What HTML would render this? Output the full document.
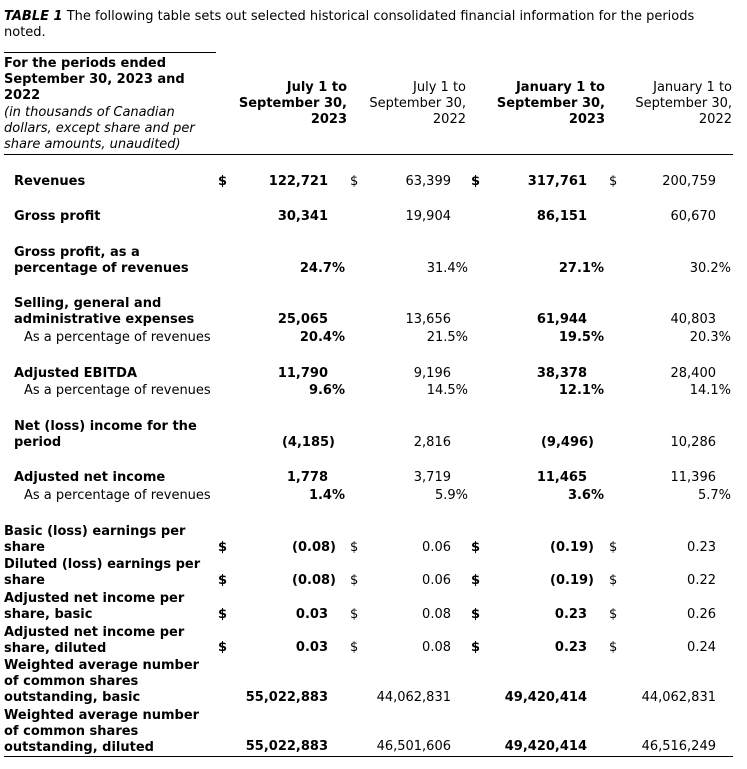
<!DOCTYPE html>
<html><head><meta charset="utf-8"><style>
body{margin:0;width:747px;height:769px;background:#fff;position:relative;font-family:"DejaVu Sans","Liberation Sans",sans-serif;font-size:13px;color:#000;overflow:hidden}
.a{position:absolute;line-height:16px;white-space:nowrap}
.b{font-weight:bold}
.i{font-style:italic}
.r{text-align:right}
.h{position:absolute;height:1px;background:#000}
</style></head><body>
<div class="a" style="left:4px;top:9px"><b><i>TABLE 1</i></b> The following table sets out selected historical consolidated financial information for the periods</div>
<div class="a" style="left:4px;top:25px">noted.</div>
<div class="h" style="left:4px;top:52px;width:212px"></div>
<div class="a b" style="left:4px;top:56px">For the periods ended<br>September 30, 2023 and<br>2022</div>
<div class="a i" style="left:4px;top:105px">(in thousands of Canadian<br>dollars, except share and per<br>share amounts, unaudited)</div>
<div class="a b r" style="right:400px;top:80px">July 1 to<br>September 30,<br>2023</div>
<div class="a r" style="right:281px;top:80px">July 1 to<br>September 30,<br>2022</div>
<div class="a b r" style="right:142px;top:80px">January 1 to<br>September 30,<br>2023</div>
<div class="a r" style="right:15px;top:80px">January 1 to<br>September 30,<br>2022</div>
<div class="h" style="left:4px;top:154px;width:729px"></div>
<div class="h" style="left:4px;top:756px;width:729px"></div>

<div class="a b" style="left:14px;top:174px">Revenues</div>
<div class="a b" style="left:14px;top:209px">Gross profit</div>
<div class="a b" style="left:14px;top:245px">Gross profit, as a<br>percentage of revenues</div>
<div class="a b" style="left:14px;top:296px">Selling, general and<br>administrative expenses</div>
<div class="a" style="left:24px;top:330px">As a percentage of revenues</div>
<div class="a b" style="left:14px;top:366px">Adjusted EBITDA</div>
<div class="a" style="left:24px;top:383px">As a percentage of revenues</div>
<div class="a b" style="left:14px;top:419px">Net (loss) income for the<br>period</div>
<div class="a b" style="left:14px;top:470px">Adjusted net income</div>
<div class="a" style="left:24px;top:488px">As a percentage of revenues</div>
<div class="a b" style="left:4px;top:524px">Basic (loss) earnings per<br>share</div>
<div class="a b" style="left:4px;top:557px">Diluted (loss) earnings per<br>share</div>
<div class="a b" style="left:4px;top:591px">Adjusted net income per<br>share, basic</div>
<div class="a b" style="left:4px;top:625px">Adjusted net income per<br>share, diluted</div>
<div class="a b" style="left:4px;top:658px">Weighted average number<br>of common shares<br>outstanding, basic</div>
<div class="a b" style="left:4px;top:708px">Weighted average number<br>of common shares<br>outstanding, diluted</div>

<div class="a b" style="left:218px;top:174px">$</div><div class="a" style="left:350px;top:174px">$</div><div class="a b" style="left:471px;top:174px">$</div><div class="a" style="left:609px;top:174px">$</div>
<div class="a b" style="left:218px;top:540px">$</div><div class="a" style="left:350px;top:540px">$</div><div class="a b" style="left:471px;top:540px">$</div><div class="a" style="left:609px;top:540px">$</div>
<div class="a b" style="left:218px;top:573px">$</div><div class="a" style="left:350px;top:573px">$</div><div class="a b" style="left:471px;top:573px">$</div><div class="a" style="left:609px;top:573px">$</div>
<div class="a b" style="left:218px;top:607px">$</div><div class="a" style="left:350px;top:607px">$</div><div class="a b" style="left:471px;top:607px">$</div><div class="a" style="left:609px;top:607px">$</div>
<div class="a b" style="left:218px;top:640px">$</div><div class="a" style="left:350px;top:640px">$</div><div class="a b" style="left:471px;top:640px">$</div><div class="a" style="left:609px;top:640px">$</div>

<div class="a b r" style="right:419px;top:174px">122,721</div><div class="a r" style="right:296px;top:174px">63,399</div><div class="a b r" style="right:160px;top:174px">317,761</div><div class="a r" style="right:31px;top:174px">200,759</div>
<div class="a b r" style="right:419px;top:209px">30,341</div><div class="a r" style="right:296px;top:209px">19,904</div><div class="a b r" style="right:160px;top:209px">86,151</div><div class="a r" style="right:31px;top:209px">60,670</div>
<div class="a b r" style="right:402px;top:261px">24.7%</div><div class="a r" style="right:279px;top:261px">31.4%</div><div class="a b r" style="right:143px;top:261px">27.1%</div><div class="a r" style="right:16px;top:261px">30.2%</div>
<div class="a b r" style="right:419px;top:312px">25,065</div><div class="a r" style="right:296px;top:312px">13,656</div><div class="a b r" style="right:160px;top:312px">61,944</div><div class="a r" style="right:31px;top:312px">40,803</div>
<div class="a b r" style="right:402px;top:330px">20.4%</div><div class="a r" style="right:279px;top:330px">21.5%</div><div class="a b r" style="right:143px;top:330px">19.5%</div><div class="a r" style="right:16px;top:330px">20.3%</div>
<div class="a b r" style="right:419px;top:366px">11,790</div><div class="a r" style="right:296px;top:366px">9,196</div><div class="a b r" style="right:160px;top:366px">38,378</div><div class="a r" style="right:31px;top:366px">28,400</div>
<div class="a b r" style="right:402px;top:383px">9.6%</div><div class="a r" style="right:279px;top:383px">14.5%</div><div class="a b r" style="right:143px;top:383px">12.1%</div><div class="a r" style="right:16px;top:383px">14.1%</div>
<div class="a b r" style="right:412px;top:435px">(4,185)</div><div class="a r" style="right:296px;top:435px">2,816</div><div class="a b r" style="right:153px;top:435px">(9,496)</div><div class="a r" style="right:31px;top:435px">10,286</div>
<div class="a b r" style="right:419px;top:470px">1,778</div><div class="a r" style="right:296px;top:470px">3,719</div><div class="a b r" style="right:160px;top:470px">11,465</div><div class="a r" style="right:31px;top:470px">11,396</div>
<div class="a b r" style="right:402px;top:488px">1.4%</div><div class="a r" style="right:279px;top:488px">5.9%</div><div class="a b r" style="right:143px;top:488px">3.6%</div><div class="a r" style="right:16px;top:488px">5.7%</div>

<div class="a b r" style="right:411px;top:540px">(0.08)</div><div class="a r" style="right:296px;top:540px">0.06</div><div class="a b r" style="right:153px;top:540px">(0.19)</div><div class="a r" style="right:31px;top:540px">0.23</div>
<div class="a b r" style="right:411px;top:573px">(0.08)</div><div class="a r" style="right:296px;top:573px">0.06</div><div class="a b r" style="right:153px;top:573px">(0.19)</div><div class="a r" style="right:31px;top:573px">0.22</div>
<div class="a b r" style="right:419px;top:607px">0.03</div><div class="a r" style="right:296px;top:607px">0.08</div><div class="a b r" style="right:160px;top:607px">0.23</div><div class="a r" style="right:31px;top:607px">0.26</div>
<div class="a b r" style="right:419px;top:640px">0.03</div><div class="a r" style="right:296px;top:640px">0.08</div><div class="a b r" style="right:160px;top:640px">0.23</div><div class="a r" style="right:31px;top:640px">0.24</div>
<div class="a b r" style="right:419px;top:690px">55,022,883</div><div class="a r" style="right:296px;top:690px">44,062,831</div><div class="a b r" style="right:160px;top:690px">49,420,414</div><div class="a r" style="right:31px;top:690px">44,062,831</div>
<div class="a b r" style="right:419px;top:739px">55,022,883</div><div class="a r" style="right:296px;top:739px">46,501,606</div><div class="a b r" style="right:160px;top:739px">49,420,414</div><div class="a r" style="right:31px;top:739px">46,516,249</div>
</body></html>
